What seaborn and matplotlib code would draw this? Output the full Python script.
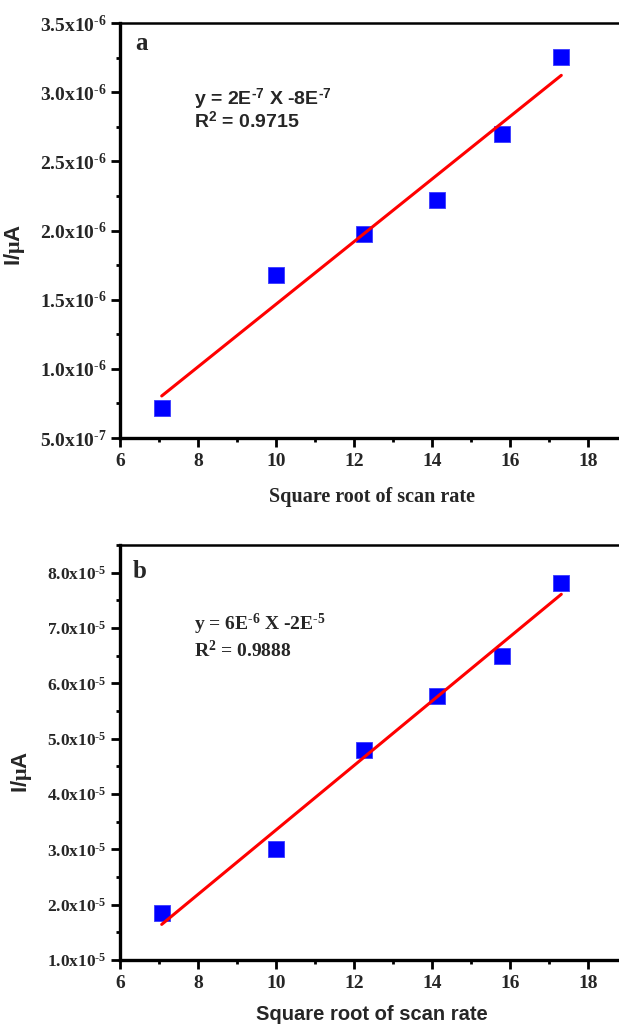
import numpy as np
import pandas as pd
import matplotlib
matplotlib.use("Agg")
import matplotlib.pyplot as plt
from matplotlib.ticker import FixedLocator, MultipleLocator, FuncFormatter
import seaborn as sns

# ---- data ----
sqrt_scan_rate = [7.07, 10.0, 12.25, 14.14, 15.81, 17.32]
current_a = [0.72e-6, 1.68e-6, 1.975e-6, 2.22e-6, 2.70e-6, 3.255e-6]
current_b = [1.85e-5, 3.0e-5, 4.8e-5, 5.78e-5, 6.5e-5, 7.82e-5]

x_ticks = [6, 8, 10, 12, 14, 16, 18]
yticks_a = [5.0e-7, 1.0e-6, 1.5e-6, 2.0e-6, 2.5e-6, 3.0e-6, 3.5e-6]
yticks_b = [1.0e-5, 2.0e-5, 3.0e-5, 4.0e-5, 5.0e-5, 6.0e-5, 7.0e-5, 8.0e-5]

x_label = "Square root of scan rate"
y_label = r"I/$\mathrm{μ}$A"
HY = "\u2010"
eq_a = ["y = 2E$^{\\mathsf{%s7}}$ X -8E$^{\\mathsf{%s7}}$" % (HY, HY), "R$^{\\mathsf{2}}$ = 0.9715"]
eq_b = ["y = 6E$^{\\mathrm{%s6}}$ X -2E$^{\\mathrm{%s5}}$" % (HY, HY), "R$^{\\mathrm{2}}$ = 0.9888"]

sns.set_style("ticks")
plt.rcParams.update({
    "font.family": ["Liberation Serif", "DejaVu Serif"],
    "font.weight": "bold",
    "mathtext.fontset": "custom",
    "mathtext.rm": "Liberation Serif:bold",
    "mathtext.bf": "Liberation Serif:bold",
    "mathtext.it": "Liberation Serif:bold",
    "mathtext.sf": "Liberation Sans:bold",
    "axes.edgecolor": "black",
})

SERIF = "Liberation Serif"
SANS = "Liberation Sans"

fig = plt.figure(figsize=(6.19, 10.24), dpi=100)
W, H = 619, 1024
def axes_rect(l, t, r, b):
    return [l / W, 1 - b / H, (r - l) / W, (b - t) / H]

ax_a = fig.add_axes(axes_rect(120, 23, 619, 438))
ax_b = fig.add_axes(axes_rect(120, 545, 619, 960))

def sci_fmt(v, pos):
    exp = int(np.floor(np.log10(abs(v)) + 1e-9))
    mant = v / 10 ** exp
    return "%.1fx10$^{\\mathrm{%s%d}}$" % (mant, HY, abs(exp))

def style(ax, yticks, ylim, ysize, ymin_step, eq, eq_font, eq_y, letter, letter_y, ylab_xy, xlab_y, xlab_font):
    ax.set_xlim(6, 18.8)
    ax.set_ylim(*ylim)
    ax.xaxis.set_major_locator(FixedLocator(x_ticks))
    ax.xaxis.set_minor_locator(MultipleLocator(1))
    ax.yaxis.set_major_locator(FixedLocator(yticks))
    ax.yaxis.set_minor_locator(MultipleLocator(ymin_step))
    ax.yaxis.set_major_formatter(FuncFormatter(sci_fmt))
    ax.xaxis.set_major_formatter(FuncFormatter(lambda v, p: "%d" % v))
    for s in ["left", "bottom"]:
        ax.spines[s].set_linewidth(2.4)
    ax.spines["top"].set_linewidth(1.8)
    ax.spines["top"].set_visible(True)
    ax.spines["right"].set_visible(False)
    ax.tick_params(which="major", direction="out", length=6.5, width=2, color="black")
    ax.tick_params(which="minor", direction="out", length=3, width=2, color="black")
    ax.tick_params(axis="x", labelsize=14, pad=4)
    ax.tick_params(axis="y", labelsize=ysize, pad=3)
    ax.tick_params(top=False, right=False, which="both")
    for lbl in ax.get_xticklabels() + ax.get_yticklabels():
        lbl.set_fontfamily(SERIF)
        lbl.set_fontweight("bold")
    ax.set_xlabel(x_label, fontsize=14.5, fontweight="bold", family=xlab_font)
    ax.xaxis.set_label_coords(0.505, xlab_y)
    ax.set_ylabel(y_label, fontsize=16, fontweight="bold", family=SANS)
    ax.yaxis.set_label_coords(*ylab_xy)
    ax.text(letter[1], letter_y, letter[0], transform=ax.transAxes, fontsize=18,
            fontweight="bold", family=SERIF, va="baseline", ha="left")
    for line, yy in zip(eq, eq_y):
        ax.text(0.148, yy, line, transform=ax.transAxes, fontsize=14,
                fontweight="bold", family=eq_font, va="baseline", ha="left")

df_a = pd.DataFrame({"x": sqrt_scan_rate, "y": current_a})
df_b = pd.DataFrame({"x": sqrt_scan_rate, "y": current_b})

for ax, df in [(ax_a, df_a), (ax_b, df_b)]:
    sns.regplot(data=df, x="x", y="y", ax=ax, ci=None, marker="s", truncate=True,
                scatter_kws={"s": 120, "color": "#0000FF", "edgecolor": "#3a3aff",
                             "linewidths": 0.6, "alpha": 1},
                line_kws={"color": "#FF0000", "linewidth": 2.2})

style(ax_a, yticks_a, (5.0e-7, 3.5e-6), 14, 0.25e-6, eq_a, SANS, [0.802, 0.747],
      ("a", 0.030), 0.935, (-0.186, 0.465), -0.118, SERIF)
style(ax_b, yticks_b, (1.0e-5, 8.5e-5), 12.5, 0.5e-5, eq_b, SERIF, [0.795, 0.730],
      ("b", 0.026), 0.920, (-0.172, 0.453), -0.108, SANS)

fig.savefig("out.png", dpi=100, facecolor="white")
